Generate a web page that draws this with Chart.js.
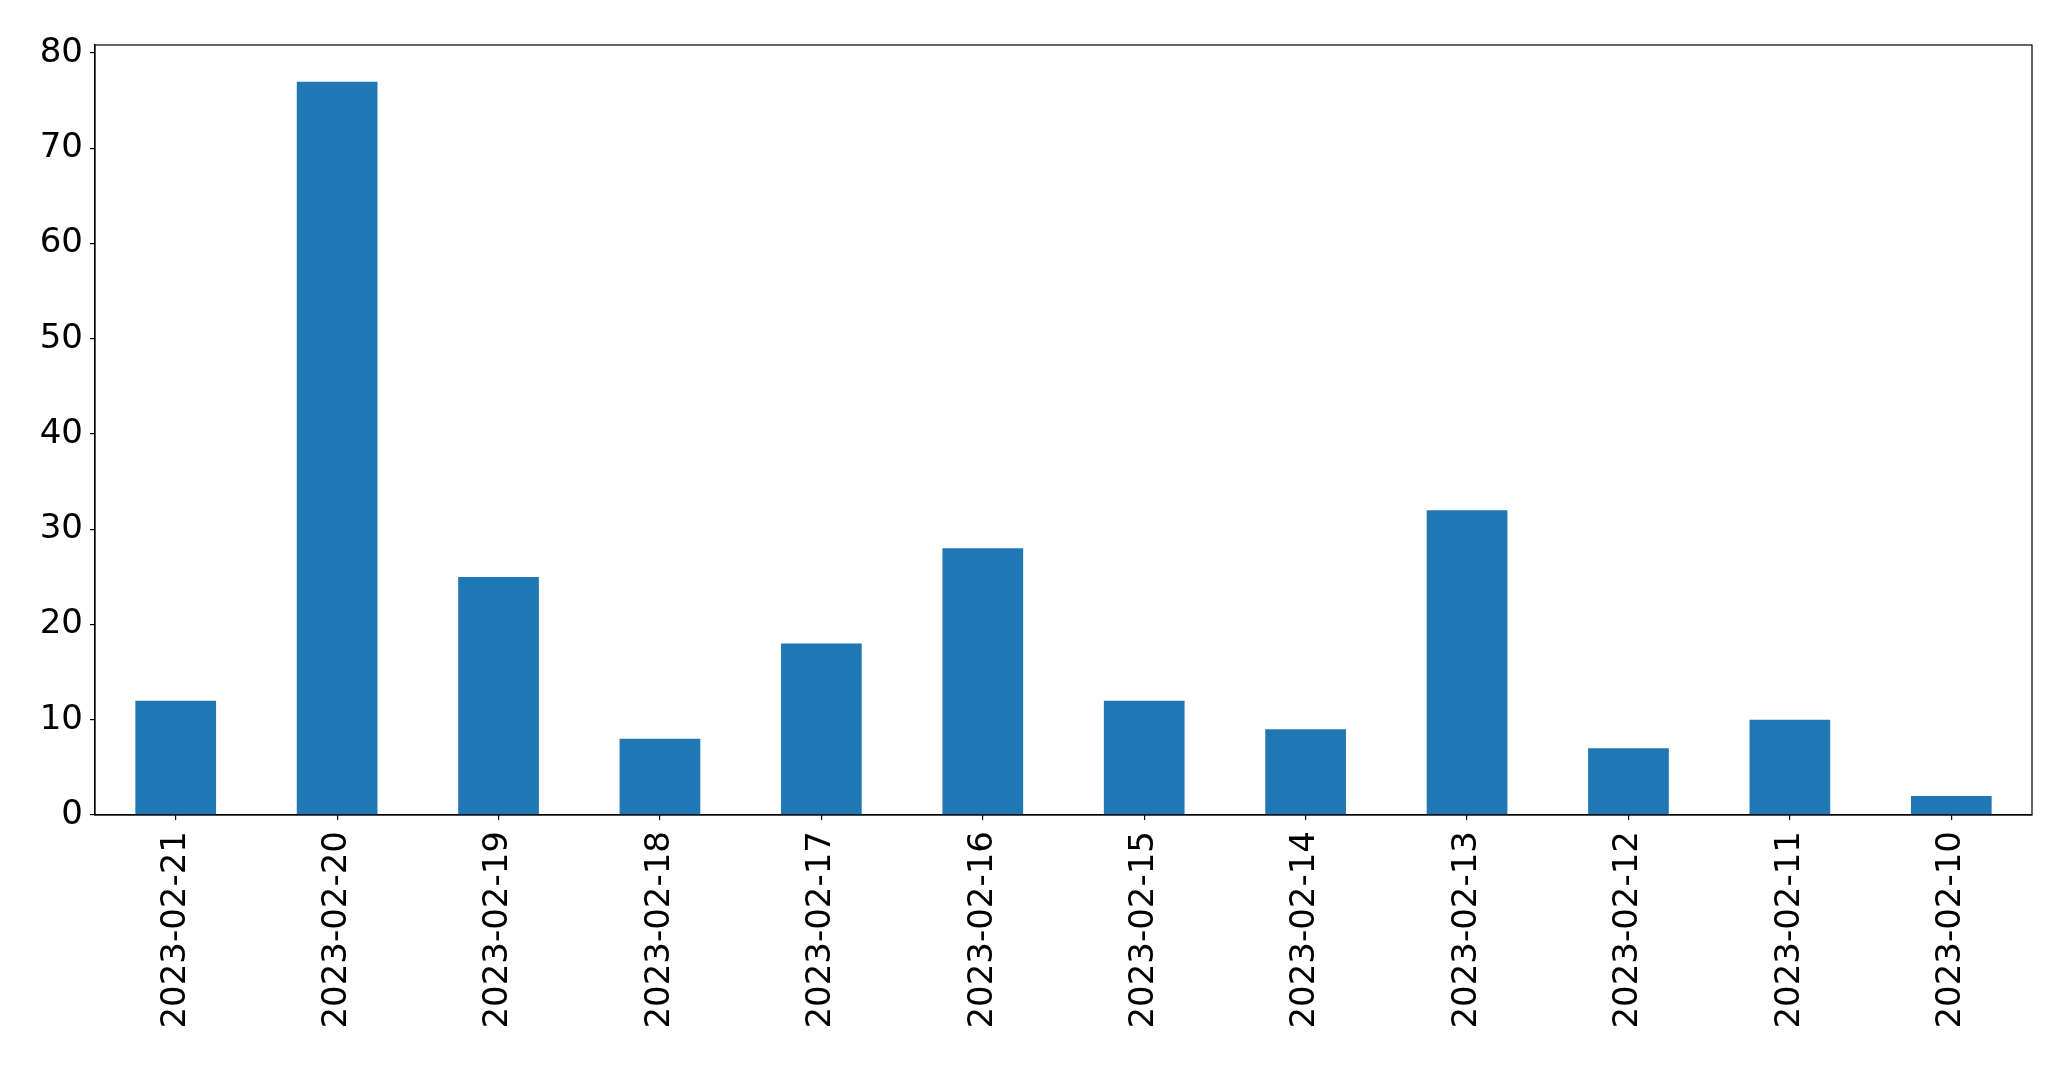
<!DOCTYPE html>
<html>
<head>
<meta charset="utf-8">
<script src="https://cdn.jsdelivr.net/npm/chart.js@4/dist/chart.umd.min.js"></script>
<style>
  html, body { margin: 0; padding: 0; background: #fff; }
  #wrap { width: 2071px; height: 1067px; }
</style>
</head>
<body>
<div id="wrap"><canvas id="chart" width="2071" height="1067"></canvas></div>
<script>
// data
const dates = ['2023-02-21', '2023-02-20', '2023-02-19', '2023-02-18', '2023-02-17', '2023-02-16',
               '2023-02-15', '2023-02-14', '2023-02-13', '2023-02-12', '2023-02-11', '2023-02-10'];
const counts = [12, 77, 25, 8, 18, 28, 12, 9, 32, 7, 10, 2];
const yTicks = [0, 10, 20, 30, 40, 50, 60, 70, 80];
const yMax = 80.85;

Chart.defaults.font.family = "'DejaVu Sans', sans-serif";
Chart.defaults.color = '#000';

// frame around the plot area (top + right sides)
const framePlugin = {
    id: 'frame',
    afterDraw(chart) {
        const { ctx, chartArea: a } = chart;
        ctx.save();
        ctx.strokeStyle = '#000';
        ctx.lineWidth = 1.2;
        ctx.strokeRect(a.left, a.top, a.right - a.left, a.bottom - a.top);
        ctx.restore();
    }
};

new Chart(document.getElementById('chart').getContext('2d'), {
    type: 'bar',
    data: {
        labels: dates,
        datasets: [{
            data: counts,
            backgroundColor: '#1f77b4',
            borderWidth: 0,
            barPercentage: 0.5,
            categoryPercentage: 1.0
        }]
    },
    options: {
        responsive: false,
        animation: false,
        layout: { padding: { left: 0, top: 45, right: 39, bottom: 0 } },
        plugins: { legend: { display: false }, tooltip: { enabled: false } },
        scales: {
            x: {
                offset: true,
                grid: { display: true, drawOnChartArea: false, offset: false, tickLength: 5, color: '#000', lineWidth: 1.2 },
                border: { display: true, color: '#000', width: 1.2 },
                ticks: { font: { size: 34 }, color: '#000', minRotation: 90, maxRotation: 90, padding: 11, autoSkip: false },
                afterFit(scale) { scale.height = 252; }
            },
            y: {
                min: 0,
                max: yMax,
                grid: { display: true, drawOnChartArea: false, tickLength: 5, color: '#000', lineWidth: 1.2 },
                border: { display: true, color: '#000', width: 1.2 },
                ticks: { font: { size: 34 }, color: '#000', padding: 7 },
                afterBuildTicks(scale) { scale.ticks = yTicks.map(v => ({ value: v })); },
                afterFit(scale) { scale.width = 95; }
            }
        }
    },
    plugins: [framePlugin]
});
</script>
</body>
</html>
